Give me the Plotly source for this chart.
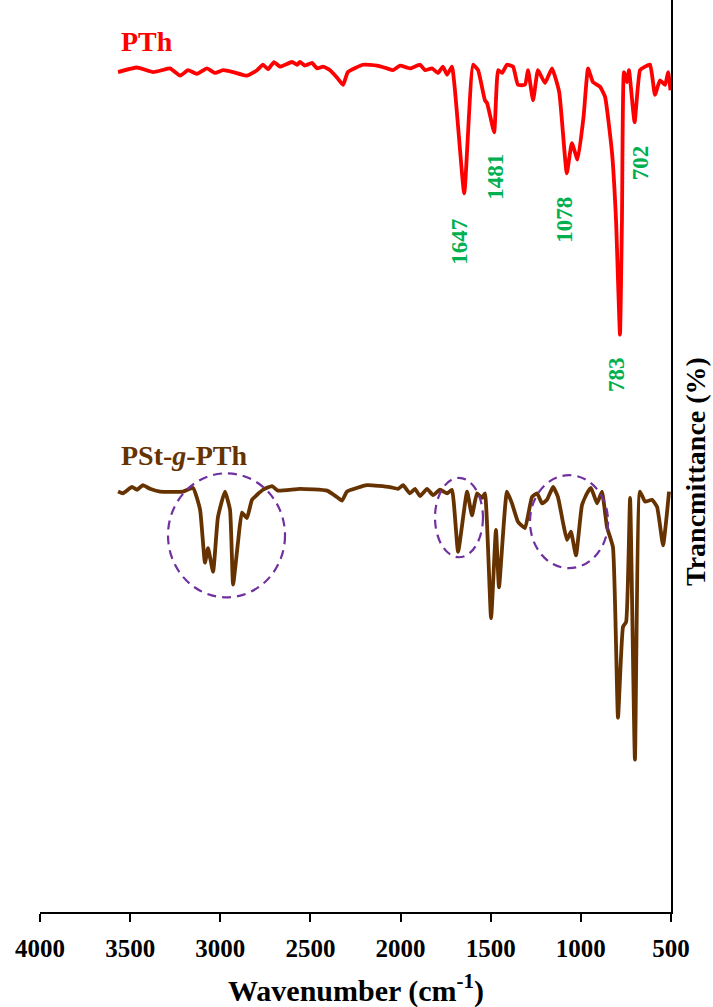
import plotly.graph_objects as go

# ---- FTIR spectra (wavenumber in cm^-1, transmittance in arbitrary %) ----
pth_wn = [3567, 3462, 3373, 3323, 3279, 3223, 3179, 3129, 3074, 3029, 2985, 2929,
          2852, 2796, 2763, 2735, 2702, 2669, 2602, 2574, 2558, 2530, 2491, 2463,
          2430, 2391, 2353, 2319, 2292, 2208, 2131, 2075, 2042, 2003, 1948, 1892,
          1864, 1826, 1792, 1765, 1742, 1715, 1647, 1598, 1570, 1532, 1520, 1481,
          1459, 1437, 1410, 1376, 1349, 1310, 1293, 1265, 1238, 1199, 1160, 1120,
          1078, 1050, 1018, 985, 960, 933, 894, 866, 827, 805, 783, 772, 761, 744,
          733, 702, 672, 644, 616, 589, 561, 533, 516, 503]
pth_t = [92.1, 92.6, 92.1, 92.3, 92.5, 91.7, 92.3, 91.9, 92.5, 92.0, 92.3, 92.1,
         91.7, 92.3, 92.9, 92.4, 93.2, 92.7, 93.2, 92.9, 93.2, 92.8, 93.1, 92.5,
         92.7, 92.3, 91.5, 90.7, 92.1, 92.9, 92.8, 92.5, 92.3, 92.8, 92.5, 92.9,
         92.3, 92.5, 92.0, 92.7, 91.8, 92.7, 78.8, 92.9, 92.3, 89.0, 88.7, 85.5,
         92.3, 92.0, 92.9, 92.7, 90.7, 90.7, 92.3, 89.0, 92.3, 90.9, 92.5, 89.9,
         81.0, 84.3, 82.5, 87.2, 92.5, 91.0, 90.5, 89.4, 83.2, 75.9, 63.3, 75.9,
         92.1, 91.0, 92.3, 86.6, 92.3, 92.7, 92.9, 89.6, 91.2, 90.7, 92.1, 90.1]

pst_wn = [3567, 3540, 3490, 3462, 3429, 3390, 3334, 3207, 3151, 3112, 3085, 3068,
          3040, 3013, 2974, 2946, 2929, 2902, 2880, 2852, 2824, 2763, 2713, 2680,
          2558, 2408, 2353, 2325, 2297, 2186, 2059, 2014, 1986, 1948, 1920, 1892,
          1853, 1820, 1781, 1742, 1715, 1681, 1631, 1604, 1576, 1548, 1532, 1498,
          1471, 1454, 1410, 1382, 1349, 1310, 1271, 1243, 1215, 1188, 1154, 1127,
          1099, 1077, 1055, 1027, 994, 966, 944, 910, 883, 855, 822, 794, 766, 749,
          727, 700, 672, 644, 605, 577, 544, 522, 511]
pst_t = [46.1, 45.9, 46.6, 46.3, 46.8, 46.4, 46.1, 46.1, 46.5, 44.1, 38.3, 39.9,
         37.3, 43.3, 46.1, 44.1, 35.9, 40.5, 43.8, 43.2, 45.2, 46.3, 46.7, 46.2,
         46.4, 46.2, 45.5, 45.1, 46.1, 46.8, 46.6, 46.4, 46.8, 45.9, 46.4, 45.6,
         46.4, 45.7, 46.3, 45.9, 46.3, 39.5, 46.1, 43.5, 45.9, 45.4, 45.9, 32.2,
         41.9, 35.6, 46.1, 44.8, 42.8, 42.1, 45.5, 45.9, 44.8, 45.2, 46.6, 45.5,
         42.7, 40.8, 41.7, 39.1, 44.6, 45.9, 46.5, 44.8, 46.1, 42.2, 40.0, 21.3,
         31.3, 31.8, 45.4, 16.7, 46.1, 45.0, 45.2, 44.4, 40.2, 43.8, 46.1]

# Peak assignments printed beside the PTh spectrum: (text, label x, label y)
peak_labels = ["1647", "1481", "1078", "783", "702"]
peak_label_x = [1670, 1471, 1088, 799, 672]
peak_label_y = [73.5, 80.6, 75.9, 58.9, 82.2]

# Dashed rings around the PSt-g-PTh bands: (wn left, wn right, T low, T high)
ring_wn0 = [3290, 1809, 1282]
ring_wn1 = [2641, 1543, 849]
ring_t0 = [34.5, 38.9, 37.7]
ring_t1 = [48.1, 47.6, 47.9]

x_ticks = [4000, 3500, 3000, 2500, 2000, 1500, 1000, 500]

RED = "#ff0000"
BROWN = "#663300"
GREEN = "#00b050"
PURPLE = "#7030a0"
SERIF = "Liberation Serif"

fig = go.Figure()
fig.add_trace(go.Scatter(x=pth_wn, y=pth_t, mode="lines", name="PTh",
                         line=dict(color=RED, width=3.8, shape="spline", smoothing=0.4)))
fig.add_trace(go.Scatter(x=pst_wn, y=pst_t, mode="lines", name="PSt-g-PTh",
                         line=dict(color=BROWN, width=3.8, shape="spline", smoothing=0.4)))

for x0, x1, y0, y1 in zip(ring_wn0, ring_wn1, ring_t0, ring_t1):
    fig.add_shape(type="circle", xref="x", yref="y", x0=x0, x1=x1, y0=y0, y1=y1,
                  line=dict(color=PURPLE, width=2.2, dash="9px,6px"))

for txt, lx, ly in zip(peak_labels, peak_label_x, peak_label_y):
    fig.add_annotation(x=lx, y=ly, text=txt, showarrow=False, textangle=-90,
                       xanchor="center", yanchor="middle",
                       font=dict(family=SERIF, size=23, color=GREEN, weight="bold"))

fig.add_annotation(x=3406, y=95.4, text="PTh", showarrow=False,
                   xanchor="center", yanchor="middle",
                   font=dict(family=SERIF, size=28, color=RED, weight="bold"))
fig.add_annotation(x=3201, y=50.1, text="PSt-<i>g</i>-PTh", showarrow=False,
                   xanchor="center", yanchor="middle",
                   font=dict(family=SERIF, size=28, color=BROWN, weight="bold"))

fig.add_annotation(xref="paper", yref="paper", x=0.5, y=-0.084,
                   xanchor="center", yanchor="middle",
                   text="Wavenumber (cm<sup>-1</sup>)", showarrow=False,
                   font=dict(family=SERIF, size=30, color="black", weight="bold"))
fig.add_annotation(xref="paper", yref="paper", x=1.0, xshift=25, y=0.4825,
                   xanchor="center", yanchor="middle",
                   text="Trancmittance (%)", showarrow=False, textangle=-90,
                   font=dict(family=SERIF, size=28, color="black", weight="bold"))

fig.update_xaxes(range=[4000, 500], tickvals=x_ticks, ticks="outside", ticklen=8,
                 tickwidth=2, tickcolor="black", showline=True, linecolor="black",
                 linewidth=2, showgrid=False, zeroline=False, ticklabelstandoff=5,
                 tickfont=dict(family=SERIF, size=25, color="black", weight="bold"))
fig.update_yaxes(range=[0, 100], side="right", showline=True, linecolor="black",
                 linewidth=2, showticklabels=False, ticks="", showgrid=False,
                 zeroline=False)

fig.update_layout(width=713, height=1007, margin=dict(l=40, r=42, t=0, b=95),
                  plot_bgcolor="white", paper_bgcolor="white", showlegend=False)

fig.write_html("out.html")
